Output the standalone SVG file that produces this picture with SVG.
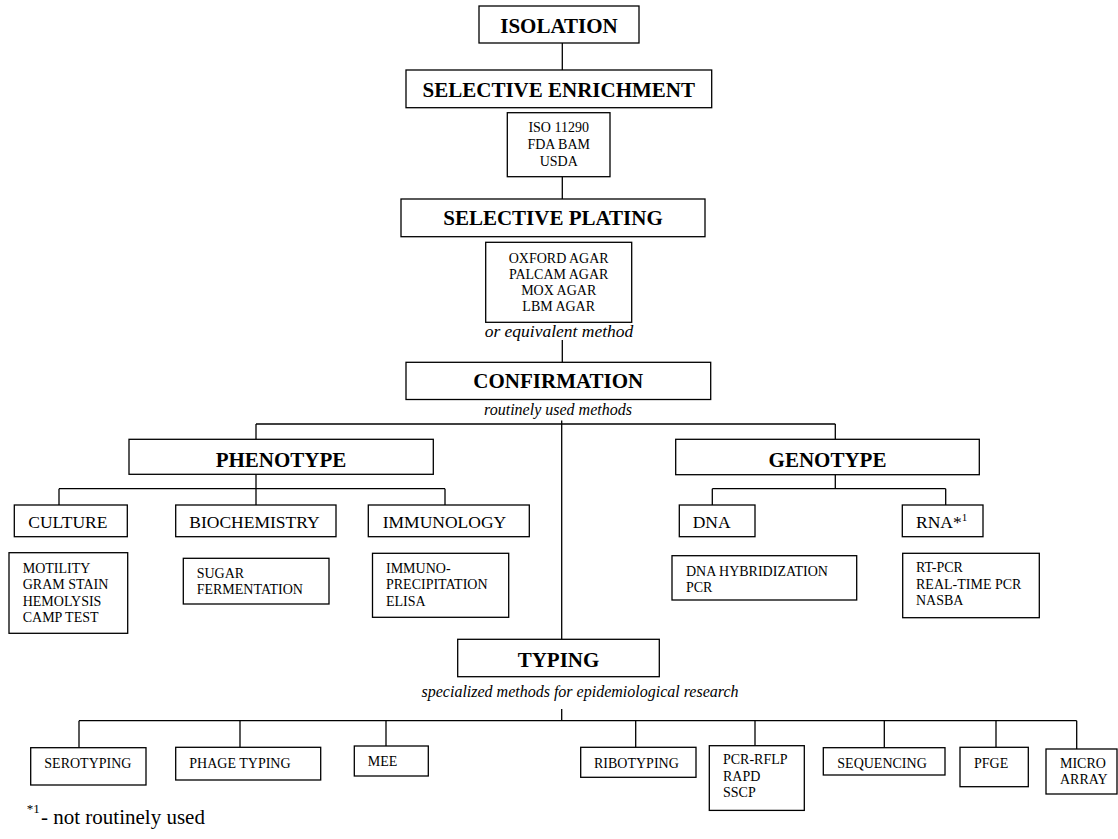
<svg xmlns="http://www.w3.org/2000/svg" width="1118" height="839" viewBox="0 0 1118 839">
<style>
rect{fill:#fff;stroke:#000;stroke-width:1.3}
#connectors line{stroke:#000;stroke-width:1.3}
text{font-family:"Liberation Serif","Times New Roman",serif;fill:#000}
.h{font-size:21px;font-weight:bold;text-anchor:middle}
.m{font-size:17.5px}
.s{font-size:14px}
.c{text-anchor:middle}
.i{font-style:italic;font-size:16px;text-anchor:middle}
</style>
<rect x="0" y="0" width="1118" height="839" style="stroke:none"/>
<g id="connectors">
<line x1="562.3" y1="43" x2="562.3" y2="70"/>
<line x1="562.3" y1="176.7" x2="562.3" y2="199"/>
<line x1="562.3" y1="340" x2="562.3" y2="362.3"/>
<line x1="561.7" y1="420.5" x2="561.7" y2="639.3"/>
<line x1="256" y1="424" x2="835.3" y2="424"/>
<line x1="256" y1="424" x2="256" y2="439.3"/>
<line x1="835.3" y1="424" x2="835.3" y2="439.3"/>
<line x1="256" y1="474.3" x2="256" y2="488.7"/>
<line x1="59" y1="488.7" x2="445" y2="488.7"/>
<line x1="59" y1="488.7" x2="59" y2="505"/>
<line x1="256" y1="488.7" x2="256" y2="505"/>
<line x1="445" y1="488.7" x2="445" y2="505"/>
<line x1="835.3" y1="474.7" x2="835.3" y2="488.7"/>
<line x1="712.3" y1="488.7" x2="945.7" y2="488.7"/>
<line x1="712.3" y1="488.7" x2="712.3" y2="505"/>
<line x1="945.7" y1="488.7" x2="945.7" y2="505"/>
<line x1="561.7" y1="709" x2="561.7" y2="720.7"/>
<line x1="79" y1="720.7" x2="1076.7" y2="720.7"/>
<line x1="79" y1="720.7" x2="79" y2="747.7"/>
<line x1="240" y1="720.7" x2="240" y2="747.3"/>
<line x1="386" y1="720.7" x2="386" y2="746"/>
<line x1="635.7" y1="720.7" x2="635.7" y2="747.3"/>
<line x1="755" y1="720.7" x2="755" y2="745.7"/>
<line x1="884.3" y1="720.7" x2="884.3" y2="747.7"/>
<line x1="996" y1="720.7" x2="996" y2="747.3"/>
<line x1="1076.7" y1="720.7" x2="1076.7" y2="749"/>
</g>
<g id="isolation"><rect x="479" y="6" width="160" height="37"/><text class="h" x="559" y="33.3">ISOLATION</text></g>
<g id="selective-enrichment"><rect x="406" y="70" width="305.7" height="37.7"/><text class="h" x="558.8" y="97.3">SELECTIVE ENRICHMENT</text></g>
<g id="enrichment-methods"><rect x="507.3" y="112.7" width="102.7" height="64"/><text class="s c" x="558.7"><tspan x="558.7" y="132.3">ISO 11290</tspan><tspan x="558.7" y="149">FDA BAM</tspan><tspan x="558.7" y="166">USDA</tspan></text></g>
<g id="selective-plating"><rect x="401" y="199" width="304" height="37.7"/><text class="h" x="553" y="225">SELECTIVE PLATING</text></g>
<g id="plating-media"><rect x="485.7" y="242.3" width="146" height="80"/><text class="s c"><tspan x="558.7" y="263.3">OXFORD AGAR</tspan><tspan x="558.7" y="279.3">PALCAM AGAR</tspan><tspan x="558.7" y="295">MOX AGAR</tspan><tspan x="558.7" y="311">LBM AGAR</tspan></text><text class="i" style="font-size:17.5px" x="559" y="336.7">or equivalent method</text></g>
<g id="confirmation"><rect x="406" y="362.3" width="304.7" height="37.2"/><text class="h" x="558.3" y="388.3">CONFIRMATION</text><text class="i" x="558" y="415">routinely used methods</text></g>
<g id="phenotype"><rect x="129" y="439.3" width="304.3" height="35"/><text class="h" x="281" y="466.7">PHENOTYPE</text></g>
<g id="genotype"><rect x="675.7" y="439.3" width="303.6" height="35.4"/><text class="h" x="827.5" y="466.7">GENOTYPE</text></g>
<g id="culture"><rect x="14.3" y="505" width="113" height="31.7"/><text class="m" x="28.3" y="527.7">CULTURE</text></g>
<g id="biochemistry"><rect x="175.7" y="505" width="160.3" height="31.7"/><text class="m" x="189.3" y="527.7">BIOCHEMISTRY</text></g>
<g id="immunology"><rect x="368.3" y="505" width="161" height="31.7"/><text class="m" x="382.7" y="527.7">IMMUNOLOGY</text></g>
<g id="dna"><rect x="679.3" y="505" width="75.7" height="31.7"/><text class="m" x="692.7" y="527.7">DNA</text></g>
<g id="rna"><rect x="902.3" y="505" width="80.7" height="31.7"/><text class="m" x="916" y="527.7">RNA*<tspan style="font-size:11px" dy="-7">1</tspan></text></g>
<g id="culture-methods"><rect x="9" y="552.7" width="118.7" height="80.6"/><text class="s"><tspan x="22.7" y="572.7">MOTILITY</tspan><tspan x="22.7" y="589.3">GRAM STAIN</tspan><tspan x="22.7" y="606">HEMOLYSIS</tspan><tspan x="22.7" y="622.3">CAMP TEST</tspan></text></g>
<g id="biochem-methods"><rect x="183.3" y="558.3" width="145.7" height="45.7"/><text class="s"><tspan x="196.7" y="577.7">SUGAR</tspan><tspan x="196.7" y="594.3">FERMENTATION</tspan></text></g>
<g id="immuno-methods"><rect x="372.5" y="553.3" width="136.2" height="64"/><text class="s"><tspan x="386" y="572.7">IMMUNO-</tspan><tspan x="386" y="589.3">PRECIPITATION</tspan><tspan x="386" y="606">ELISA</tspan></text></g>
<g id="dna-methods"><rect x="672" y="555.7" width="184.7" height="44.3"/><text class="s"><tspan x="686" y="576">DNA HYBRIDIZATION</tspan><tspan x="686" y="592.3">PCR</tspan></text></g>
<g id="rna-methods"><rect x="902.7" y="553.3" width="136.6" height="64.4"/><text class="s"><tspan x="916" y="572.3">RT-PCR</tspan><tspan x="916" y="589.3">REAL-TIME PCR</tspan><tspan x="916" y="605">NASBA</tspan></text></g>
<g id="typing"><rect x="457.7" y="639.3" width="201.6" height="37.4"/><text class="h" x="558.5" y="666.7">TYPING</text><text class="i" x="580" y="697.3">specialized methods for epidemiological research</text></g>
<g id="serotyping"><rect x="30.7" y="747.7" width="115.3" height="37.3"/><text class="s" x="44.3" y="767.7">SEROTYPING</text></g>
<g id="phage-typing"><rect x="175.7" y="747.3" width="145" height="32.7"/><text class="s" x="189.3" y="767.7">PHAGE TYPING</text></g>
<g id="mee"><rect x="354.3" y="746" width="74" height="30"/><text class="s" x="367.7" y="766.3">MEE</text></g>
<g id="ribotyping"><rect x="580.7" y="747.3" width="115.3" height="30"/><text class="s" x="594" y="767.7">RIBOTYPING</text></g>
<g id="pcr-rflp"><rect x="709.3" y="745.7" width="95" height="64.7"/><text class="s"><tspan x="723" y="764">PCR-RFLP</tspan><tspan x="723" y="780.5">RAPD</tspan><tspan x="723" y="797">SSCP</tspan></text></g>
<g id="sequencing"><rect x="823.3" y="747.7" width="121.7" height="27.3"/><text class="s" x="837.3" y="767.7">SEQUENCING</text></g>
<g id="pfge"><rect x="960" y="747.3" width="68.3" height="39.4"/><text class="s" x="974" y="767.7">PFGE</text></g>
<g id="microarray"><rect x="1046" y="749" width="71" height="45"/><text class="s"><tspan x="1060" y="768.3">MICRO</tspan><tspan x="1060" y="784.3">ARRAY</tspan></text></g>
<g id="footnote"><text x="26.7" y="813.3" style="font-size:13px">*1</text><text x="41" y="824" style="font-size:21px">- not routinely used</text></g>
</svg>
